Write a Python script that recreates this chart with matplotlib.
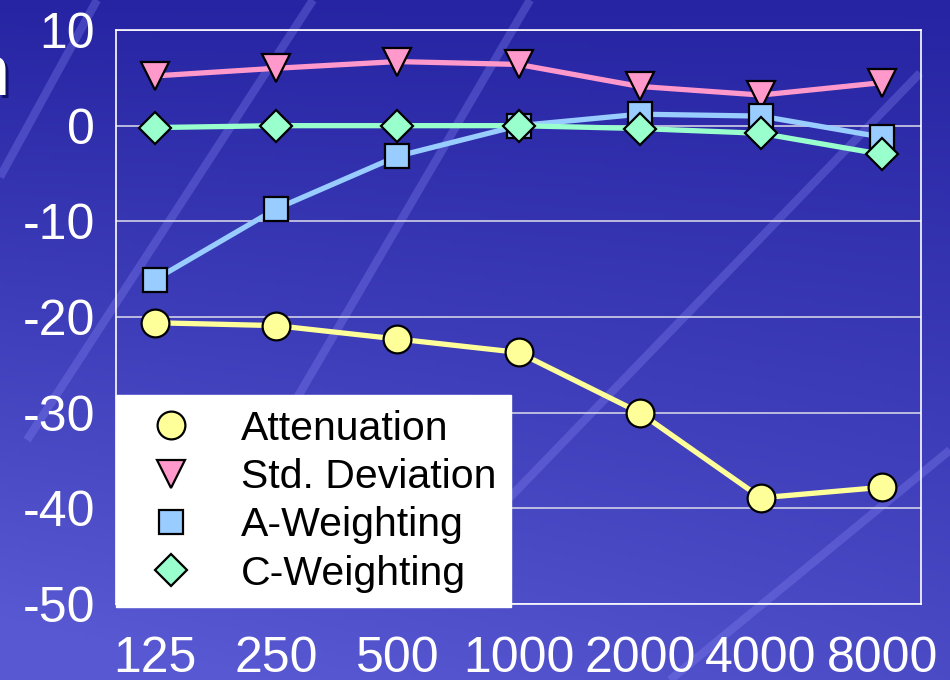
import matplotlib
matplotlib.use('Agg')
import matplotlib.pyplot as plt
import numpy as np
from matplotlib.lines import Line2D

# 数据
freqs = ['125', '250', '500', '1000', '2000', '4000', '8000']
attenuation = [-20.6, -20.9, -22.3, -23.7, -30.0, -38.9, -37.8]
std_dev = [5.2, 6.0, 6.7, 6.4, 4.1, 3.2, 4.5]
a_weight = [-16.1, -8.7, -3.2, 0.0, 1.2, 1.0, -1.2]
c_weight = [-0.2, 0.0, 0.0, 0.0, -0.3, -0.8, -3.0]
y_ticks = [10, 0, -10, -20, -30, -40, -50]

plt.rcParams['font.family'] = ['Liberation Sans', 'DejaVu Sans']
plt.rcParams['axes.unicode_minus'] = False

W, H = 950, 680
fig = plt.figure(figsize=(W / 100, H / 100), dpi=100)

# 背景渐变
bg = fig.add_axes([0, 0, 1, 1], zorder=-10)
gx, gy = np.meshgrid(np.linspace(0, 1, 200), np.linspace(0, 1, 200))
t = np.clip(0.75 * gy + 0.35 * (1 - gx) * gy, 0, 1)
top = np.array([0x26, 0x24, 0xa2]) / 255
bot = np.array([0x58, 0x58, 0xd2]) / 255
img = top[None, None, :] * (1 - t[..., None]) + bot[None, None, :] * t[..., None]
bg.imshow(img, extent=[0, W, H, 0], aspect='auto')
# 斜向光带
streaks = [((0, 177), (97, 0)), ((27, 440), (313, 0)), ((290, 410), (530, 0)),
           ((430, 580), (920, 73)), ((670, 680), (950, 450))]
for (x0, y0), (x1, y1) in streaks:
    bg.plot([x0, x1], [y0, y1], color='#8080f0', lw=6, alpha=0.35, solid_capstyle='butt')
bg.set_xlim(0, W)
bg.set_ylim(H, 0)
bg.axis('off')

# 左侧被截断的标题字符
fig.text(12 / W, 1 - 98 / H, 'n', color='#10106a', fontsize=52, ha='right', va='baseline')
fig.text(9 / W, 1 - 95 / H, 'n', color='white', fontsize=52, ha='right', va='baseline')

ax = fig.add_axes([116 / W, 1 - 604 / H, (921 - 116) / W, (604 - 30) / H])
ax.patch.set_alpha(0)
x = np.arange(len(freqs))

series = [
    ('Attenuation', attenuation, 'o', '#ffff99', 20),
    ('Std. Deviation', std_dev, 'v', '#ff99cc', 20),
    ('A-Weighting', a_weight, 's', '#99ccff', 17),
    ('C-Weighting', c_weight, 'D', '#99ffcc', 16),
]
# 先画线，再画标记
for name, vals, mk, col, ms in series:
    ax.plot(x, vals, color=col, lw=3.8, zorder=3)
for name, vals, mk, col, ms in series:
    ax.plot(x, vals, ls='none', marker=mk, ms=ms, mfc=col, mec='black', mew=1.6, zorder=4)

ax.set_xlim(-0.32, 6.32)
ax.set_ylim(-50, 10)
ax.set_yticks(y_ticks)
ax.set_xticks(x)
ax.set_xticklabels(freqs)
ax.tick_params(axis='both', length=0, labelsize=36, colors='white')
ax.tick_params(axis='y', pad=15)
ax.tick_params(axis='x', pad=23)
ax.yaxis.grid(True, color='#d0d0e8', lw=1.2)
ax.set_axisbelow(True)
for sp in ax.spines.values():
    sp.set_color('white')
    sp.set_linewidth(1.2)

handles = [Line2D([], [], ls='none', marker=mk, ms=ms, mfc=col, mec='black', mew=1.6)
           for name, vals, mk, col, ms in series]
leg = ax.legend(handles, [s[0] for s in series], loc='lower left',
                bbox_to_anchor=(0, -0.005), borderaxespad=0, fontsize=29.5,
                frameon=True, fancybox=False, framealpha=1, edgecolor='white',
                facecolor='white', handlelength=2.0, handletextpad=0.7,
                borderpad=0.35, labelspacing=0.25, numpoints=1)
leg.set_zorder(5)

fig.savefig('out.png', dpi=100)
